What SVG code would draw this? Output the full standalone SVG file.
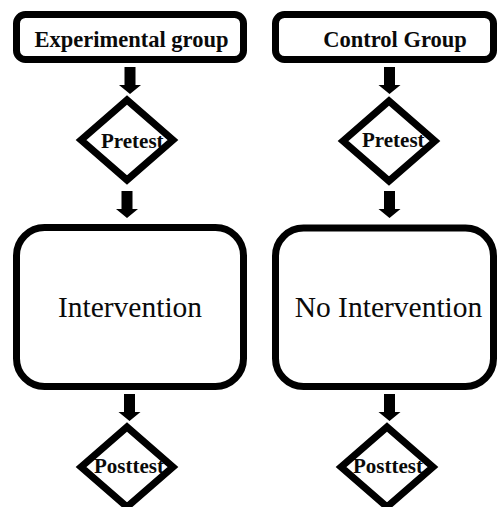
<svg xmlns="http://www.w3.org/2000/svg" xmlns:xlink="http://www.w3.org/1999/xlink" width="498" height="507" viewBox="0 0 498 507">
  <style>
    .box { fill: #ffffff; stroke: #000000; stroke-width: 7; }
    .dfill { fill: #ffffff; stroke: none; }
    .dline { fill: none; stroke: #000000; stroke-width: 7; stroke-linejoin: miter; }
    .arrow { fill: #000000; }
    text { font-family: "Liberation Serif", "Times New Roman", serif; fill: #0a0a0a; }
    .head { font-weight: bold; font-size: 22.5px; text-anchor: middle; }
    .test { font-weight: bold; font-size: 21px; }
    .big { font-size: 29.5px; text-anchor: middle; }
  </style>
  <defs>
    <!-- diamond centred on the origin -->
    <polygon id="diamond" points="0,-40 46,0 0,40 -46,0"/>
    <!-- block arrow pointing down, top of shaft at the origin -->
    <path id="blockArrow" d="M-5.5,0 H5.5 V18 H11 L0,27 L-11,18 H-5.5 Z"/>
  </defs>
  <rect width="498" height="507" fill="#ffffff"/>

  <!-- connectors -->
  <g id="connectors" class="arrow">
    <use xlink:href="#blockArrow" transform="translate(130,67)"/>
    <use xlink:href="#blockArrow" transform="translate(127,191)"/>
    <use xlink:href="#blockArrow" transform="translate(129.5,394)"/>
    <use xlink:href="#blockArrow" transform="translate(389.5,67)"/>
    <use xlink:href="#blockArrow" transform="translate(389.5,191)"/>
    <use xlink:href="#blockArrow" transform="translate(389.5,394)"/>
  </g>

  <!-- experimental arm -->
  <g id="experimental-group">
    <rect class="box" x="16.5" y="14.5" width="227" height="45" rx="9"/>
    <text class="head" x="131.5" y="47">Experimental group</text>
  </g>
  <g id="pretest-experimental">
    <use xlink:href="#diamond" class="dfill" transform="translate(127,140)"/>
    <text class="test" x="101" y="148">Pretest</text>
    <use xlink:href="#diamond" class="dline" transform="translate(127,140)"/>
  </g>
  <g id="intervention">
    <rect class="box" x="16.5" y="227.5" width="227" height="159" rx="28"/>
    <text class="big" x="130" y="317">Intervention</text>
  </g>
  <g id="posttest-experimental">
    <use xlink:href="#diamond" class="dfill" transform="translate(127,467)"/>
    <text class="test" x="94" y="473">Posttest</text>
    <use xlink:href="#diamond" class="dline" transform="translate(127,467)"/>
  </g>

  <!-- control arm -->
  <g id="control-group">
    <rect class="box" x="275.5" y="14.5" width="218" height="45" rx="9"/>
    <text class="head" x="395" y="47">Control Group</text>
  </g>
  <g id="pretest-control">
    <use xlink:href="#diamond" class="dfill" transform="translate(389,141)"/>
    <text class="test" x="362" y="147">Pretest</text>
    <use xlink:href="#diamond" class="dline" transform="translate(389,141)"/>
  </g>
  <g id="no-intervention">
    <rect class="box" x="275.5" y="228" width="218" height="158.5" rx="28"/>
    <text class="big" x="388.5" y="317">No Intervention</text>
  </g>
  <g id="posttest-control">
    <use xlink:href="#diamond" class="dfill" transform="translate(387,467)"/>
    <text class="test" x="353" y="473">Posttest</text>
    <use xlink:href="#diamond" class="dline" transform="translate(387,467)"/>
  </g>
</svg>
